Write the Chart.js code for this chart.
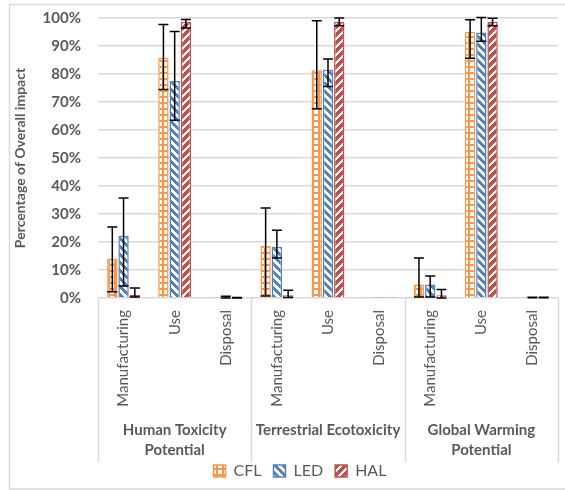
<!DOCTYPE html>
<html>
<head>
<meta charset="utf-8">
<script src="https://cdn.jsdelivr.net/npm/chart.js@4"></script>
<style>
  html, body { margin: 0; padding: 0; background: #ffffff; }
  #wrap { width: 565px; height: 490px; position: relative; }
</style>
</head>
<body>
<div id="wrap"><canvas id="chart" width="565" height="490"></canvas></div>
<script>
// Life-cycle stage shares of overall impact per lamp type (percent)
const stages = ["Manufacturing", "Use", "Disposal",
                "Manufacturing", "Use", "Disposal",
                "Manufacturing", "Use", "Disposal"];
const impactGroups = [["Human Toxicity", "Potential"], "Terrestrial Ecotoxicity", ["Global Warming", "Potential"]];
const yTicks = [0, 10, 20, 30, 40, 50, 60, 70, 80, 90, 100];

const cflValues = [14.0, 85.9, 0.1, 18.6, 81.3, 0.1, 4.8, 95.1, 0.1];
const ledValues = [22.2, 77.5, 0.3, 18.3, 81.5, 0.1, 4.8, 94.8, 0.2];
const halValues = [1.2, 98.7, 0.1, 1.0, 98.7, 0.1, 1.0, 98.7, 0.2];

// Error bar extents above / below each value (percentage points)
const cflErrUp   = [11.4, 11.8, 0.0, 13.5, 17.7, 0.0, 9.5, 4.3, 0.0];
const cflErrDown = [11.8, 11.4, 0.0, 17.9, 13.7, 0.0, 4.4, 9.5, 0.0];
const ledErrUp   = [13.5, 17.7, 0.3, 5.9, 3.9, 0.0, 3.1, 5.4, 0.1];
const ledErrDown = [17.9, 14.0, 0.3, 4.0, 6.0, 0.0, 4.4, 3.1, 0.1];
const halErrUp   = [2.4, 0.8, 0.1, 1.8, 1.3, 0.0, 2.0, 1.2, 0.1];
const halErrDown = [0.8, 2.3, 0.1, 0.8, 1.5, 0.0, 1.0, 1.5, 0.1];

const TEXT = '#595959';
const GRID = '#d9d9d9';
const FONT = 'Lato, "Open Sans", sans-serif';

// Fill patterns for the three lamp types
function gridPattern(color) {
  const c = document.createElement('canvas');
  c.width = 6; c.height = 6;
  const g = c.getContext('2d');
  g.fillStyle = '#ffffff'; g.fillRect(0, 0, 6, 6);
  g.fillStyle = color;
  g.fillRect(0, 0, 6, 2);
  g.fillRect(0, 0, 2, 6);
  return g.createPattern(c, 'repeat');
}
function diagonalPattern(color, down, band) {
  const c = document.createElement('canvas');
  c.width = 8; c.height = 8;
  const g = c.getContext('2d');
  g.fillStyle = '#ffffff'; g.fillRect(0, 0, 8, 8);
  g.fillStyle = color;
  for (let y = 0; y < 8; y++) {
    for (let x = 0; x < 8; x++) {
      const k = down ? ((x - y + 64) % 8) : ((x + y) % 8);
      if (k < band) g.fillRect(x, y, 1, 1);
    }
  }
  return g.createPattern(c, 'repeat');
}

const CFL_COLOR = '#F79646';
const LED_COLOR = '#4F81BD';
const HAL_COLOR = '#C0504D';

// Whiskers drawn through the value scale
const errorBars = {
  id: 'errorBars',
  afterDatasetsDraw(chart) {
    const { ctx } = chart;
    const y = chart.scales.y;
    ctx.save();
    ctx.strokeStyle = '#000000';
    ctx.lineWidth = 1.5;
    chart.data.datasets.forEach((ds, di) => {
      const meta = chart.getDatasetMeta(di);
      meta.data.forEach((bar, i) => {
        const v = ds.data[i];
        const up = ds.errUp[i], down = ds.errDown[i];
        if (up === 0 && down === 0) return;
        const yt = y.getPixelForValue(v + up);
        const yb = y.getPixelForValue(Math.max(0, v - down));
        const x = bar.x;
        const hw = 5;
        ctx.beginPath();
        ctx.moveTo(x, yt); ctx.lineTo(x, yb);
        ctx.moveTo(x - hw, yt); ctx.lineTo(x + hw, yt);
        ctx.moveTo(x - hw, yb); ctx.lineTo(x + hw, yb);
        ctx.stroke();
      });
    });
    ctx.restore();
  }
};

// Legend sits centred under the whole frame, slightly tucked up
const legendPlacement = {
  id: 'legendPlacement',
  afterLayout(chart) {
    const lg = chart.legend;
    if (!lg) return;
    lg.left += 21; lg.right += 21;
    lg.top -= 11; lg.bottom -= 11;
  }
};

// Outer frame and the separators between impact categories
const frame = {
  id: 'frame',
  afterDraw(chart) {
    const { ctx, chartArea } = chart;
    const x2 = chart.scales.x2;
    ctx.save();
    ctx.strokeStyle = GRID;
    ctx.lineWidth = 1.5;
    ctx.strokeRect(9.5, 4.5, 600, 484.5);
    const step = chartArea.width / stages.length;
    ctx.beginPath();
    for (let b = 0; b <= stages.length; b += 3) {
      const px = Math.round(chartArea.left + b * step) + 0.5;
      ctx.moveTo(px, chartArea.bottom);
      ctx.lineTo(px, x2.bottom);
    }
    ctx.stroke();
    ctx.restore();
  }
};

const bw = 1.5;
new Chart(document.getElementById('chart'), {
  type: 'bar',
  data: {
    labels: stages,
    datasets: [
      { label: 'CFL', data: cflValues, errUp: cflErrUp, errDown: cflErrDown,
        backgroundColor: gridPattern(CFL_COLOR), borderColor: CFL_COLOR, borderWidth: bw },
      { label: 'LED', data: ledValues, errUp: ledErrUp, errDown: ledErrDown,
        backgroundColor: diagonalPattern(LED_COLOR, true, 4), borderColor: LED_COLOR, borderWidth: bw },
      { label: 'HAL', data: halValues, errUp: halErrUp, errDown: halErrDown,
        backgroundColor: diagonalPattern(HAL_COLOR, false, 5), borderColor: HAL_COLOR, borderWidth: bw }
    ]
  },
  options: {
    responsive: false,
    animation: false,
    devicePixelRatio: 1,
    categoryPercentage: 0.66,
    barPercentage: 0.92,
    layout: { padding: { left: 0, right: 7, top: 18, bottom: -10 } },
    plugins: {
      tooltip: { enabled: false },
      legend: {
        position: 'bottom',
        labels: {
          color: TEXT,
          font: { family: FONT, size: 16 },
          boxWidth: 12, boxHeight: 12,
          padding: 12
        }
      }
    },
    scales: {
      y: {
        min: 0, max: 100,
        afterBuildTicks(scale) { scale.ticks = yTicks.map(v => ({ value: v })); },
        afterFit(scale) {
          scale.width = 98;
          scale.paddingTop = 0;
          scale.paddingBottom = 0;
        },
        ticks: {
          color: TEXT,
          font: { family: FONT, size: 15, weight: 'bold' },
          padding: 17,
          callback: v => v + '%'
        },
        grid: { color: GRID, lineWidth: 1.5, drawTicks: false },
        border: { display: false },
        title: {
          display: true,
          text: 'Percentage of Overall impact',
          color: TEXT,
          font: { family: FONT, size: 14, weight: 'bold' },
          padding: { top: 12, bottom: 0 }
        }
      },
      x: {
        weight: 0,
        afterFit(scale) { scale.height = 119; },
        ticks: {
          color: TEXT,
          font: { family: FONT, size: 15 },
          minRotation: 90, maxRotation: 90,
          padding: 12,
          autoSkip: false
        },
        grid: { display: false, drawTicks: false },
        border: { display: false }
      },
      x2: {
        type: 'category',
        position: 'bottom',
        weight: 1,
        labels: impactGroups,
        offset: true,
        afterFit(scale) { scale.height = 45; },
        ticks: {
          color: TEXT,
          font: { family: FONT, size: 15, weight: 'bold', lineHeight: 1.33 },
          maxRotation: 0, minRotation: 0,
          padding: 3,
          autoSkip: false
        },
        grid: { display: false, drawTicks: false },
        border: { display: false }
      }
    }
  },
  plugins: [errorBars, legendPlacement, frame]
});
</script>
</body>
</html>
